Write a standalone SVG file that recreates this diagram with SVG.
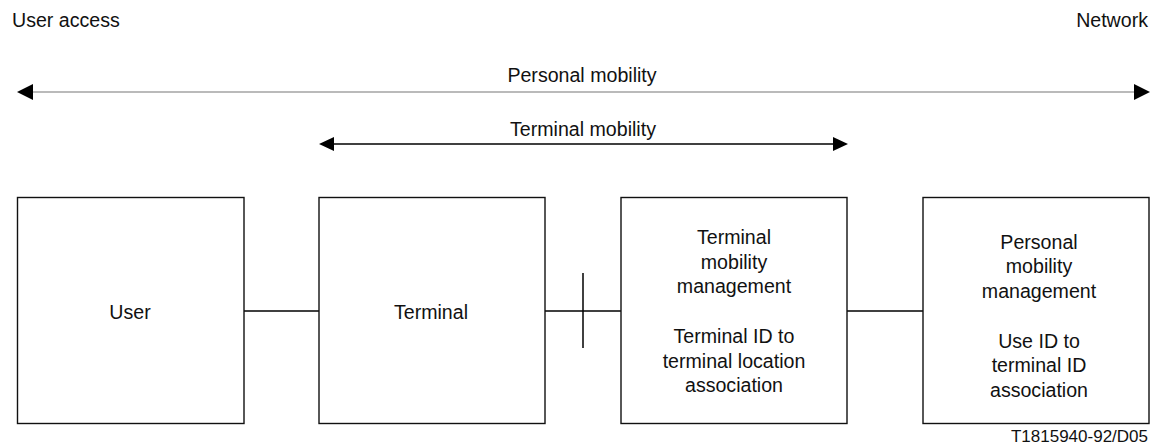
<svg xmlns="http://www.w3.org/2000/svg" width="1152" height="448" viewBox="0 0 1152 448">
<style>
text{font-family:"Liberation Sans",Arial,sans-serif;font-size:19.6px;fill:#111}
.box{fill:#fff;stroke:#111;stroke-width:1.4}
.c{text-anchor:middle}
.ln{stroke:#000;stroke-width:1.5;fill:none}
.head{fill:#000}
</style>
<rect width="1152" height="448" fill="#fff"/>
<text x="12" y="27">User access</text>
<text x="1148" y="27" text-anchor="end">Network</text>
<text class="c" x="582" y="82">Personal mobility</text>
<text class="c" x="583" y="136">Terminal mobility</text>
<g id="connectors">
<line x1="32" y1="92" x2="1135" y2="92" stroke="#777" stroke-width="1.2"/>
<polygon class="head" points="17,92 33,84 33,100"/>
<polygon class="head" points="1150,92 1134,84 1134,100"/>
<line class="ln" x1="333" y1="144" x2="834" y2="144"/>
<polygon class="head" points="319,144 334,137 334,151"/>
<polygon class="head" points="848,144 833,137 833,151"/>
<line class="ln" x1="244" y1="311" x2="319" y2="311"/>
<line class="ln" x1="545" y1="311" x2="621" y2="311"/>
<line class="ln" x1="583" y1="273" x2="583" y2="348"/>
<line class="ln" x1="847" y1="311" x2="923" y2="311"/>
</g>
<g id="user">
<rect class="box" x="17.5" y="197.5" width="226.5" height="226"/>
<text class="c" x="130" y="319">User</text>
</g>
<g id="terminal">
<rect class="box" x="319" y="197.5" width="226" height="226"/>
<text class="c" x="431" y="319">Terminal</text>
</g>
<g id="tmm">
<rect class="box" x="621" y="197.5" width="226" height="226"/>
<text class="c" x="734" y="244">Terminal</text>
<text class="c" x="734" y="268.5">mobility</text>
<text class="c" x="734" y="293">management</text>
<text class="c" x="734" y="343">Terminal ID to</text>
<text class="c" x="734" y="367.5">terminal location</text>
<text class="c" x="734" y="392">association</text>
</g>
<g id="pmm">
<rect class="box" x="923" y="197.5" width="226" height="226"/>
<text class="c" x="1039" y="248.5">Personal</text>
<text class="c" x="1039" y="273">mobility</text>
<text class="c" x="1039" y="297.5">management</text>
<text class="c" x="1039" y="347.5">Use ID to</text>
<text class="c" x="1039" y="372">terminal ID</text>
<text class="c" x="1039" y="396.5">association</text>
</g>
<text x="1148" y="442" text-anchor="end" style="font-size:17px">T1815940-92/D05</text>
</svg>
